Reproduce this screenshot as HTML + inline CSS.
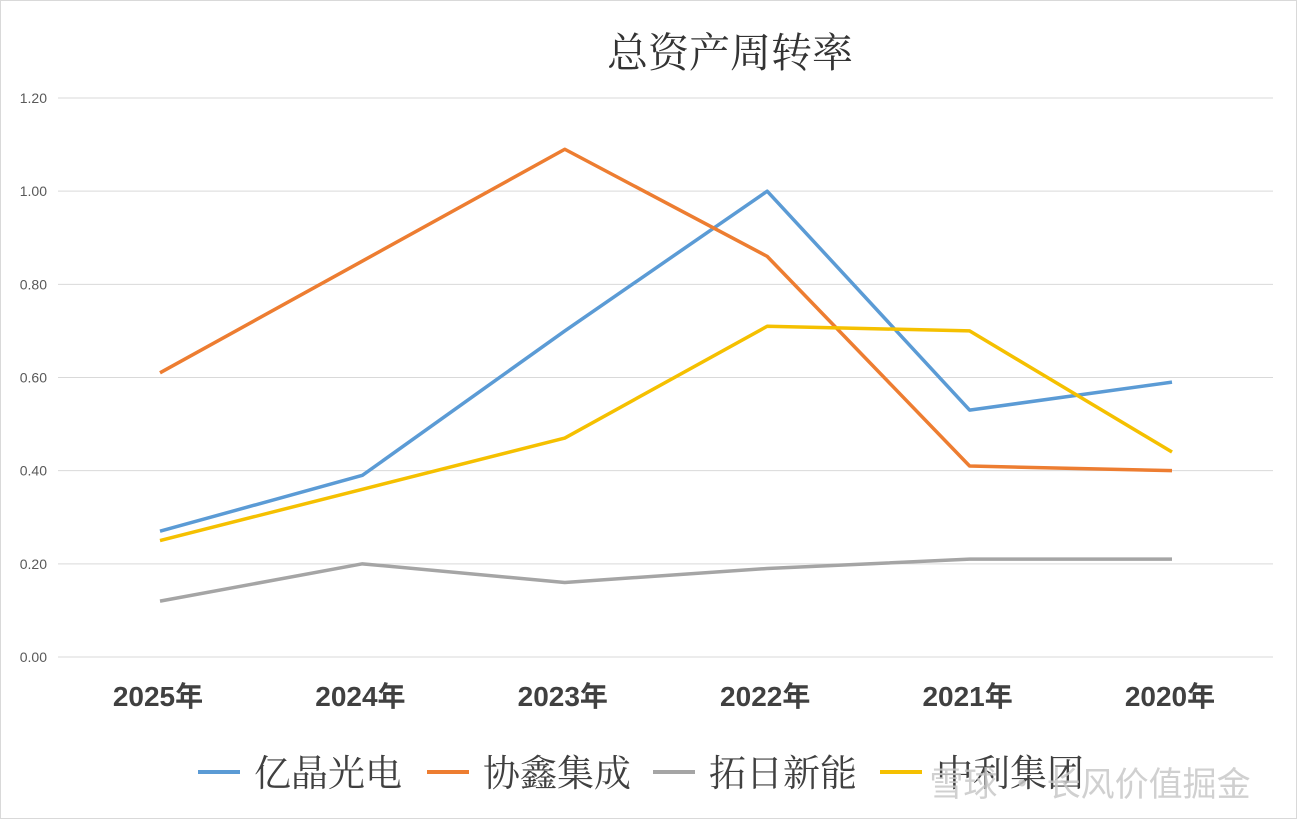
<!DOCTYPE html>
<html><head><meta charset="utf-8"><style>
body{margin:0;background:#fff;}
svg{display:block;font-family:"Liberation Sans","Noto Sans CJK SC",sans-serif;}
</style></head><body>
<svg id="chart" width="1298" height="822">
<rect x="0.5" y="0.5" width="1296" height="818" fill="#fff" stroke="#d9d9d9"/>
<text x="730" y="67" text-anchor="middle" font-size="41" fill="#333" font-family="'Liberation Serif','Noto Serif CJK SC',serif">总资产周转率</text>
<g id="grid"></g><g id="xl"></g><g id="lines"></g><g id="legend"></g>
<text x="1090" y="796" text-anchor="middle" font-size="34" fill="#c8c8c8" opacity="0.85" font-family="'Noto Sans CJK SC',sans-serif">雪球 · 长风价值掘金</text>
</svg>
<script>
const categories=["2025年","2024年","2023年","2022年","2021年","2020年"];
const seriesNames=["亿晶光电","协鑫集成","拓日新能","中利集团"];
const yijing=[0.27,0.39,0.70,1.00,0.53,0.59];
const xiexin=[0.61,0.85,1.09,0.86,0.41,0.40];
const tuori=[0.12,0.20,0.16,0.19,0.21,0.21];
const zhongli=[0.25,0.36,0.47,0.71,0.70,0.44];
const yTicks=[0,0.2,0.4,0.6,0.8,1.0,1.2];
const colors=["#5b9bd5","#ed7d31","#a5a5a5","#f5c000"];
const NS="http://www.w3.org/2000/svg";
const y=v=>657-v/1.2*559;
const x=i=>160+i*202.4;
function mk(t,a,p){const e=document.createElementNS(NS,t);for(const k in a)e.setAttribute(k,a[k]);p.appendChild(e);return e;}
const grid=document.getElementById('grid');
yTicks.forEach(v=>{
 const l=mk('line',{x1:58,x2:1273,y1:y(v),y2:y(v),stroke:'#d9d9d9','stroke-width':1},grid);
 
 
 const t=mk('text',{x:47,y:y(v)+5,'text-anchor':'end','font-size':14,fill:'#595959'},grid);
 t.textContent=v.toFixed(2);
 
 
});
const xl=document.getElementById('xl');
categories.forEach((c,i)=>{
 const t=mk('text',{x:x(i)-2,y:706,'text-anchor':'middle','font-size':28,'font-weight':'bold',fill:'#404040'},xl);
 t.textContent=c;
 
 
});
const lines=document.getElementById('lines');
[yijing,xiexin,tuori,zhongli].forEach((s,k)=>{
 const p=mk('polyline',{points:s.map((v,i)=>x(i)+','+y(v)).join(' '),fill:'none',stroke:colors[k],'stroke-width':3.5,'stroke-linejoin':'round'},lines);
 
 
});
const lg=document.getElementById('legend');
const lx=[198,427,653,880];
seriesNames.forEach((n,k)=>{
 const l=mk('line',{x1:lx[k],x2:lx[k]+42,y1:772,y2:772,stroke:colors[k],'stroke-width':4},lg);
 
 
 const t=mk('text',{x:lx[k]+56,y:786,'font-size':37,fill:'#404040','font-family':"'Noto Serif CJK SC',serif"},lg);
 t.textContent=n;
 
 
});
</script>
</body></html>
